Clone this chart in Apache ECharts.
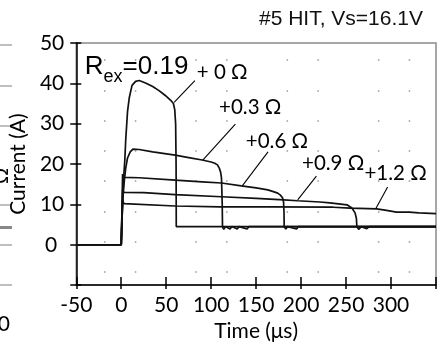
<!DOCTYPE html>
<html>
<head>
<meta charset="utf-8">
<script src="https://cdn.jsdelivr.net/npm/echarts@6/dist/echarts.min.js"></script>
<style>
  html, body { margin: 0; padding: 0; background: #fff; }
  #chart { width: 439px; height: 347px; }
</style>
</head>
<body>
<div id="chart"></div>
<script>
// tick labels
var xTickLabels = [-50, 0, 50, 100, 150, 200, 250, 300]
var yTickLabels = [0, 10, 20, 30, 40, 50]

// curve names (added resistance)
var curveNames = ['+ 0 Ω', '+0.3 Ω', '+0.6 Ω', '+0.9 Ω', '+1.2 Ω']

// [time (us), current (A)]
var plus00 = [[-50, 0], [0, 0], [1, 7], [2.5, 16], [4, 21], [5, 26], [7, 33], [9, 36.5], [12, 39.5], [16, 40.5],
  [20, 40.7], [27, 40.1], [35, 39.2], [42, 38.2], [49, 37], [55, 35.8], [58, 35], [59.5, 33.5], [60.5, 30],
  [61, 20], [61.2, 4.5], [350, 4.5]]
var plus03 = [[-50, 0], [0, 0], [1, 7], [2, 12], [3.5, 16], [5, 19], [7, 21.5], [10, 23], [13, 23.7], [20, 23.6],
  [35, 23], [60, 22.2], [75, 21.6], [90, 21], [100, 20.5], [104, 20.2], [107, 19.8], [109, 19], [110.5, 18],
  [111.5, 16.5], [112.3, 10], [112.6, 4.5], [114, 3.8], [116, 4.5], [121, 3.9], [123, 4.5], [129, 3.9],
  [131, 4.5], [140, 3.9], [142, 4.5], [350, 4.5]]
var plus06 = [[-50, 0], [0, 0], [0.8, 8], [1.5, 17.5], [2.5, 16.7], [20, 16.6], [22, 16.2], [60, 16], [90, 15.6],
  [111.5, 15.3], [133.5, 14.6], [150, 14.1], [163, 13.6], [170, 13.1], [174, 12.8], [177, 12.3], [179.5, 11.6],
  [180.5, 10.6], [181, 8], [181.2, 4.5], [183, 3.9], [185, 4.5], [195, 3.9], [197, 4.5], [350, 4.5]]
var plus09 = [[-50, 0], [0, 0], [0.8, 8], [1.5, 13.6], [3, 13], [25, 12.9], [27, 12.5], [60, 12.4], [111.5, 11.9],
  [150, 11.5], [180.8, 11.1], [196, 10.9], [221, 10.6], [232, 10.4], [251, 9.9], [256.5, 9.1], [260, 7.9],
  [261.5, 6.5], [262, 4.5], [264, 3.8], [267, 4.5], [273, 4], [276, 4.5], [350, 4.5]]
var plus12 = [[-50, 0], [0, 0], [0.8, 7], [1.5, 11], [3, 10.2], [5, 10.1], [60, 9.6], [110, 9.4], [163, 9.4],
  [235.7, 9.3], [254.4, 9.1], [284, 8.9], [295, 8.5], [306, 8.1], [320, 8.1], [331, 7.9], [350, 7.7]]
var curves = [plus00, plus03, plus06, plus09, plus12]

// annotation anchors in data units: label (left-middle), leader start, leader end
var labelAt = [[84, 42.7], [108.8, 34.1], [138.5, 25.7], [201, 20.2], [270.4, 17.6]]
var leaderFrom = [[81.9, 40.7], [126.9, 29.9], [163.2, 23.0], [217, 17.0], [296.2, 14.3]]
var leaderTo = [[58.8, 35.3], [90.7, 21.0], [134.6, 14.6], [196.2, 11.1], [283, 8.9]]
var rexAt = [-40.5, 44.0]

var myChart = echarts.init(document.getElementById('chart'))
var tickFont = 'Lato'

var series = curves.map(function (d, i) {
  var s = {
    name: curveNames[i],
    type: 'line',
    data: d,
    xAxisIndex: 0,
    yAxisIndex: 0,
    showSymbol: false,
    symbol: 'none',
    animation: false,
    lineStyle: {color: '#111', width: 1.7},
    markLine: {
      silent: true,
      symbol: 'none',
      animation: false,
      label: {show: false},
      lineStyle: {color: '#000', width: 1.1, type: 'solid'},
      data: [[{coord: leaderFrom[i]}, {coord: leaderTo[i]}]]
    },
    markPoint: {
      silent: true,
      animation: false,
      symbol: 'circle',
      symbolSize: 0,
      data: [{
        coord: labelAt[i],
        label: {
          show: true, position: 'right', distance: 0,
          formatter: curveNames[i],
          fontFamily: tickFont, fontSize: 20.5, color: '#000'
        }
      }]
    }
  }
  if (i === 0) {
    s.markPoint.data.push({
      coord: rexAt,
      label: {
        show: true, position: 'right', distance: 0,
        formatter: '{b|R}{s|ex}{b|=0.19}',
        rich: {
          b: {fontFamily: 'Liberation Sans', fontSize: 26, color: '#000'},
          s: {fontFamily: 'Liberation Sans', fontSize: 18, color: '#000', padding: [20, 0, 0, 0]}
        }
      }
    })
  }
  return s
})

// cut-off pieces of the neighbouring panel at the left edge
var leftBits = [45, 86, 126, 205, 245, 285].map(function (y) {
  return {type: 'line', shape: {x1: 0, y1: y, x2: 12, y2: y}, style: {stroke: '#aaa', lineWidth: 1.5}}
})
leftBits.push({type: 'rect', shape: {x: 0, y: 226, width: 12, height: 3}, style: {fill: '#888'}})
leftBits.push({type: 'text', x: 12, y: 176, rotation: Math.PI / 2,
  style: {text: 'Ω', fontFamily: tickFont, fontSize: 20, fill: '#000', align: 'center', verticalAlign: 'bottom'}})
leftBits.push({type: 'text', x: 10, y: 324,
  style: {text: '0', fontFamily: tickFont, fontSize: 21, fill: '#000', align: 'right', verticalAlign: 'middle'}})

myChart.setOption({
  animation: false,
  title: {
    text: '#5 HIT, Vs=16.1V',
    right: 16,
    top: 9,
    padding: 0,
    textStyle: {fontFamily: 'Liberation Sans', fontSize: 21, fontWeight: 'normal', color: '#111'}
  },
  grid: [
    {left: 73, right: 2, top: 43, bottom: 61, show: true, borderColor: '#8a8a8a', borderWidth: 1.5},
    {left: 73, right: 2, top: 60, height: 212}
  ],
  xAxis: [
    {
      gridIndex: 0, type: 'value', min: -50, max: 350, interval: 50, position: 'bottom',
      name: 'Time (μs)', nameLocation: 'middle', nameGap: 33,
      nameTextStyle: {fontFamily: tickFont, fontSize: 21, color: '#000'},
      axisLine: {onZero: false, lineStyle: {color: '#000', width: 1.5}},
      axisTick: {length: 4, lineStyle: {color: '#000', width: 1.5}},
      axisLabel: {
        margin: 10, fontFamily: tickFont, fontSize: 21, color: '#000',
        formatter: function (v) { return xTickLabels.indexOf(v) < 0 ? '' : String(v) }
      },
      splitLine: {show: false}
    },
    {
      gridIndex: 0, type: 'value', min: -50, max: 350, interval: 50, position: 'bottom',
      axisLine: {show: false, onZero: false},
      axisTick: {inside: true, length: 8, lineStyle: {color: '#000', width: 1.5}},
      axisLabel: {show: false},
      splitLine: {show: false}
    },
    {gridIndex: 1, type: 'value', min: 0, max: 1, show: false}
  ],
  yAxis: [
    {
      gridIndex: 0, type: 'value', min: -10, max: 50, interval: 10, position: 'left',
      name: 'Current (A)', nameLocation: 'middle', nameGap: 47,
      nameTextStyle: {fontFamily: tickFont, fontSize: 21, color: '#000'},
      axisLine: {onZero: false, lineStyle: {color: '#000', width: 1.5}},
      axisTick: {length: 6, lineStyle: {color: '#000', width: 1.5}},
      axisLabel: {
        margin: 12, fontFamily: tickFont, fontSize: 21, color: '#000',
        formatter: function (v) {
          if (yTickLabels.indexOf(v) < 0) return ''
          return v === 0 ? '{z|0}' : String(v)
        },
        rich: {z: {fontFamily: tickFont, fontSize: 21, color: '#000', padding: [0, 7, 0, 0]}}
      },
      splitLine: {show: false}
    },
    {
      gridIndex: 0, type: 'value', min: -10, max: 50, interval: 10, position: 'left',
      axisLine: {show: false, onZero: false},
      axisTick: {inside: true, length: 5, lineStyle: {color: '#000', width: 1.5}},
      axisLabel: {show: false},
      splitLine: {show: false}
    },
    {
      gridIndex: 1, type: 'value', min: 0, max: 7, interval: 1,
      axisLine: {show: false}, axisTick: {show: false}, axisLabel: {show: false},
      splitLine: {
        show: true,
        lineStyle: {color: '#9a9a9a', width: 1.6, type: [1.5, 29.3, 1.5, 59], dashOffset: 60.3}
      }
    }
  ],
  graphic: leftBits,
  series: series
})
</script>
</body>
</html>
